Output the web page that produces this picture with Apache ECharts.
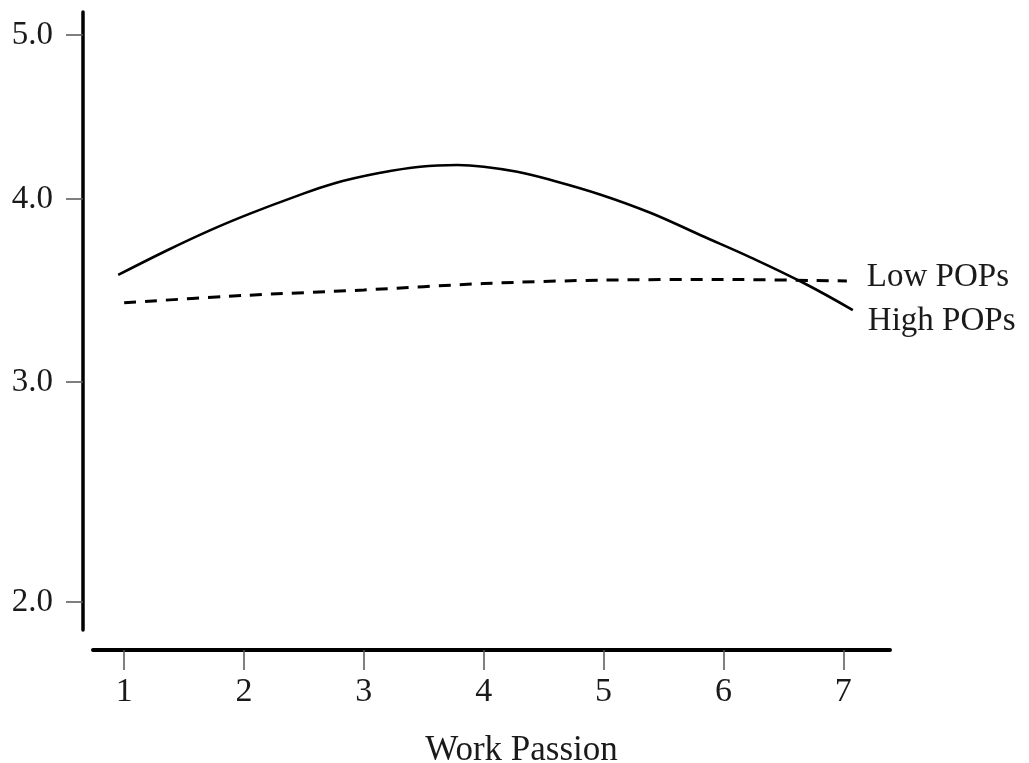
<!DOCTYPE html>
<html>
<head>
<meta charset="utf-8">
<script src="https://cdn.jsdelivr.net/npm/echarts@6/dist/echarts.min.js"></script>
<style>
  html, body { margin: 0; padding: 0; background: #fff; }
  #chart { width: 1029px; height: 763px; }
</style>
</head>
<body>
<div id="chart"></div>
<script>
// ---- data ----
const xTickValues = [1, 2, 3, 4, 5, 6, 7];
const yTickValues = [2.0, 3.0, 4.0, 5.0];

const highPopsX = [0.95, 1.36, 1.72, 2.05, 2.41, 2.75, 3.14, 3.47, 3.78, 4.00, 4.28, 4.56, 4.97, 5.39, 5.81, 6.23, 6.67, 7.08];
const highPopsY = [3.585, 3.72, 3.83, 3.92, 4.01, 4.095, 4.16, 4.197, 4.207, 4.197, 4.166, 4.116, 4.028, 3.925, 3.802, 3.680, 3.541, 3.393];

const lowPopsX = [1.0, 2.0, 3.0, 4.0, 5.0, 6.0, 7.03];
const lowPopsY = [3.433, 3.473, 3.503, 3.538, 3.557, 3.56, 3.552];

const seriesNames = ['High POPs', 'Low POPs'];
const xAxisTitle = 'Work Passion';

// ---- layout: the source's y axis is not evenly spaced; relative drawn length of each tick interval ----
const Y_GAPS = [220, 183, 164];
const Y_AXIS_BOTTOM_VALUE = 1.873;
const Y_AXIS_TOP_VALUE = 5.14;

function toAxis(v) {
  const t = yTickValues;
  let cum = 0;
  if (v <= t[1]) return (v - t[0]) * Y_GAPS[0];
  for (let i = 0; i < t.length - 1; i++) {
    if (v <= t[i + 1] || i === t.length - 2) {
      return cum + (v - t[i]) * Y_GAPS[i];
    }
    cum += (t[i + 1] - t[i]) * Y_GAPS[i];
  }
  return cum;
}
const yTickPos = yTickValues.map(toAxis);
function tickLabel(pos) {
  let best = 0;
  for (let i = 1; i < yTickPos.length; i++) {
    if (Math.abs(yTickPos[i] - pos) < Math.abs(yTickPos[best] - pos)) best = i;
  }
  return yTickValues[best].toFixed(1);
}

const FONT = '"Liberation Serif", "Times New Roman", serif';
const chart = echarts.init(document.getElementById('chart'), null, { renderer: 'canvas' });

chart.setOption({
  animation: false,
  backgroundColor: '#ffffff',
  grid: { left: 93, right: 139, top: 12, bottom: 133, containLabel: false, outerBoundsMode: 'none' },
  xAxis: {
    type: 'value',
    min: 0.74,
    max: 7.39,
    offset: 20,
    name: xAxisTitle,
    nameLocation: 'middle',
    nameGap: 83,
    nameTextStyle: { fontFamily: FONT, fontSize: 35, color: '#1a1a1a', padding: [0, 0, 0, 60] },
    axisLine: { show: true, onZero: false, lineStyle: { color: '#000', width: 4 } },
    axisTick: { show: true, length: 20, customValues: xTickValues, lineStyle: { color: '#555', width: 1.5 } },
    axisLabel: { customValues: xTickValues, margin: 25, fontFamily: FONT, fontSize: 34, color: '#1a1a1a' },
    splitLine: { show: false }
  },
  yAxis: {
    type: 'value',
    min: toAxis(Y_AXIS_BOTTOM_VALUE),
    max: toAxis(Y_AXIS_TOP_VALUE),
    offset: 10,
    axisLine: { show: true, onZero: false, lineStyle: { color: '#000', width: 3.5 } },
    axisTick: { show: true, length: 17, customValues: yTickPos, lineStyle: { color: '#555', width: 1.5 } },
    axisLabel: { customValues: yTickPos, formatter: tickLabel, margin: 30, fontFamily: FONT, fontSize: 33, color: '#1a1a1a' },
    splitLine: { show: false }
  },
  series: [
    {
      name: seriesNames[0],
      type: 'line',
      smooth: 0.4,
      symbol: 'none',
      data: highPopsX.map((x, i) => [x, toAxis(highPopsY[i])]),
      lineStyle: { color: '#000', width: 2.6, type: 'solid' },
      endLabel: {
        show: true, formatter: '{a}', distance: 15, offset: [0, 11],
        fontFamily: FONT, fontSize: 33, color: '#1a1a1a'
      }
    },
    {
      name: seriesNames[1],
      type: 'line',
      smooth: 0.3,
      symbol: 'none',
      data: lowPopsX.map((x, i) => [x, toAxis(lowPopsY[i])]),
      lineStyle: { color: '#000', width: 3, type: [12, 9] },
      endLabel: {
        show: true, formatter: '{a}', distance: 20, offset: [0, -4],
        fontFamily: FONT, fontSize: 33, color: '#1a1a1a'
      }
    }
  ]
});
</script>
</body>
</html>
